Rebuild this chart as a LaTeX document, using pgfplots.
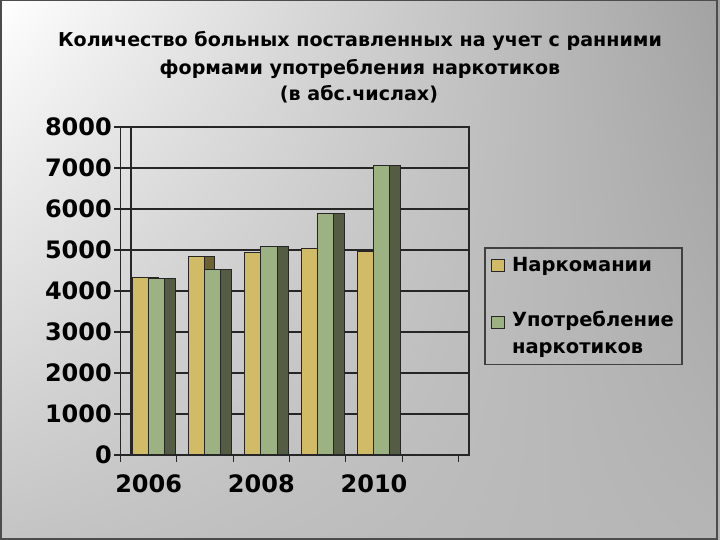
\documentclass[border=0pt]{standalone}
\usepackage{fontspec}
\setmainfont{DejaVu Sans}
\usepackage{pgfplots}
\pgfplotsset{compat=1.18}
\usetikzlibrary{shadings}

\definecolor{yFront}{HTML}{D2BB66}
\definecolor{ySide}{HTML}{6E6232}
\definecolor{gFront}{HTML}{9DB282}
\definecolor{gSide}{HTML}{545D43}
\definecolor{bgTR}{HTML}{A2A2A2}
\definecolor{bgBL}{HTML}{C4C4C4}
\definecolor{bgBR}{HTML}{B5B5B5}

\newcommand\titlefont{\fontsize{19.1bp}{22bp}\selectfont\bfseries}
\newcommand\legfont{\fontsize{19.5bp}{25bp}\selectfont\bfseries}
\newcommand\ticksfont{\fontsize{24bp}{28bp}\selectfont\bfseries}

\pgfplotsset{
    % square legend swatch; #1 = vertical offset of its lower edge
    sqleg/.style={legend image code/.code={\draw[##1, line width=0.8bp] (0bp,#1) rectangle (13bp,#1+12bp);}},
    barline/.style={draw=black!85, line width=0.8bp},
}

\begin{document}
\begin{tikzpicture}[x=1bp,y=1bp]
\path[use as bounding box] (0,0) rectangle (720,540);
\shade[upper left=white, upper right=bgTR, lower left=bgBL, lower right=bgBR] (0,0) rectangle (720,540);
\draw[line width=1.5bp, black!70] (0.75,0.75) rectangle (717,539.25);

\node[anchor=base, font=\titlefont] at (360,493) {Количество больных поставленных на учет с ранними};
\node[anchor=base, font=\titlefont] at (360,465) {формами употребления наркотиков};
\node[anchor=base, font=\titlefont] at (359,439) {(в абс.числах)};

\begin{axis}[
    at={(131bp,85bp)}, anchor=south west,
    scale only axis, width=338bp, height=328bp,
    xmin=0.5, xmax=6.5, ymin=0, ymax=8000,
    clip=false,
    axis line style={line width=1.3bp, black!85},
    ymajorgrids, grid style={line width=1.3bp, black!85},
    major tick length=0pt,
    ytick={0,1000,...,8000},
    xtick={1,3,5}, xticklabels={2006,2008,2010},
    /pgf/number format/assume math mode=true,
    /pgf/number format/1000 sep={},
    tick label style={font=\ticksfont},
    yticklabel style={anchor=east, inner sep=0pt, xshift=-19bp},
    xticklabel style={anchor=base, inner sep=0pt, xshift=-10.5bp, yshift=-38bp},
    legend cell align=left,
    legend style={at={(1.0445,0.634)}, anchor=north west, draw=black!75,
        line width=1.5bp, fill=none, font=\legfont, inner xsep=6bp, inner ysep=7bp,
        row sep=35bp, column sep=5.5bp, cells={align=left}},
]

% dark side of the yellow bars, mostly hidden behind the green ones
\addplot[ybar, bar width=0.18, bar shift=-0.11, fill=ySide, barline, forget plot]
    coordinates {(1,4320)(2,4840)(3,4930)(4,5040)(5,4960)};

\addplot[ybar, bar width=0.28, bar shift=-0.34, fill=yFront, barline, sqleg=-7bp]
    coordinates {(1,4320)(2,4840)(3,4930)(4,5040)(5,4960)};
\addlegendentry{Наркомании}

\addplot[ybar, bar width=0.295, bar shift=-0.0525, fill=gFront, barline, sqleg=5bp]
    coordinates {(1,4310)(2,4530)(3,5090)(4,5890)(5,7060)};
\addlegendentry{Употребление\\[2bp]наркотиков}

\addplot[ybar, bar width=0.195, bar shift=0.1925, fill=gSide, barline, forget plot]
    coordinates {(1,4310)(2,4530)(3,5090)(4,5890)(5,7060)};

% front edges of the 3-D frame
\draw[line width=1.3bp, black!85] ([xshift=-10.5bp]axis cs:0.5,8000) -- ([xshift=-10.5bp]axis cs:0.5,0) -- ([xshift=-10.5bp]axis cs:6.5,0);
\pgfplotsinvokeforeach{0.5,1.5,2.5,3.5,4.5,5.5,6.5}{
    \draw[line width=1.3bp, black!85] ([xshift=-10.5bp]axis cs:#1,0) -- ([xshift=-10.5bp, yshift=-7bp]axis cs:#1,0);
}
\pgfplotsinvokeforeach{0,1000,2000,3000,4000,5000,6000,7000,8000}{
    \draw[line width=1.3bp, black!85] ([xshift=-17bp]axis cs:0.5,#1) -- (axis cs:0.5,#1);
}
\end{axis}
\end{tikzpicture}
\end{document}
